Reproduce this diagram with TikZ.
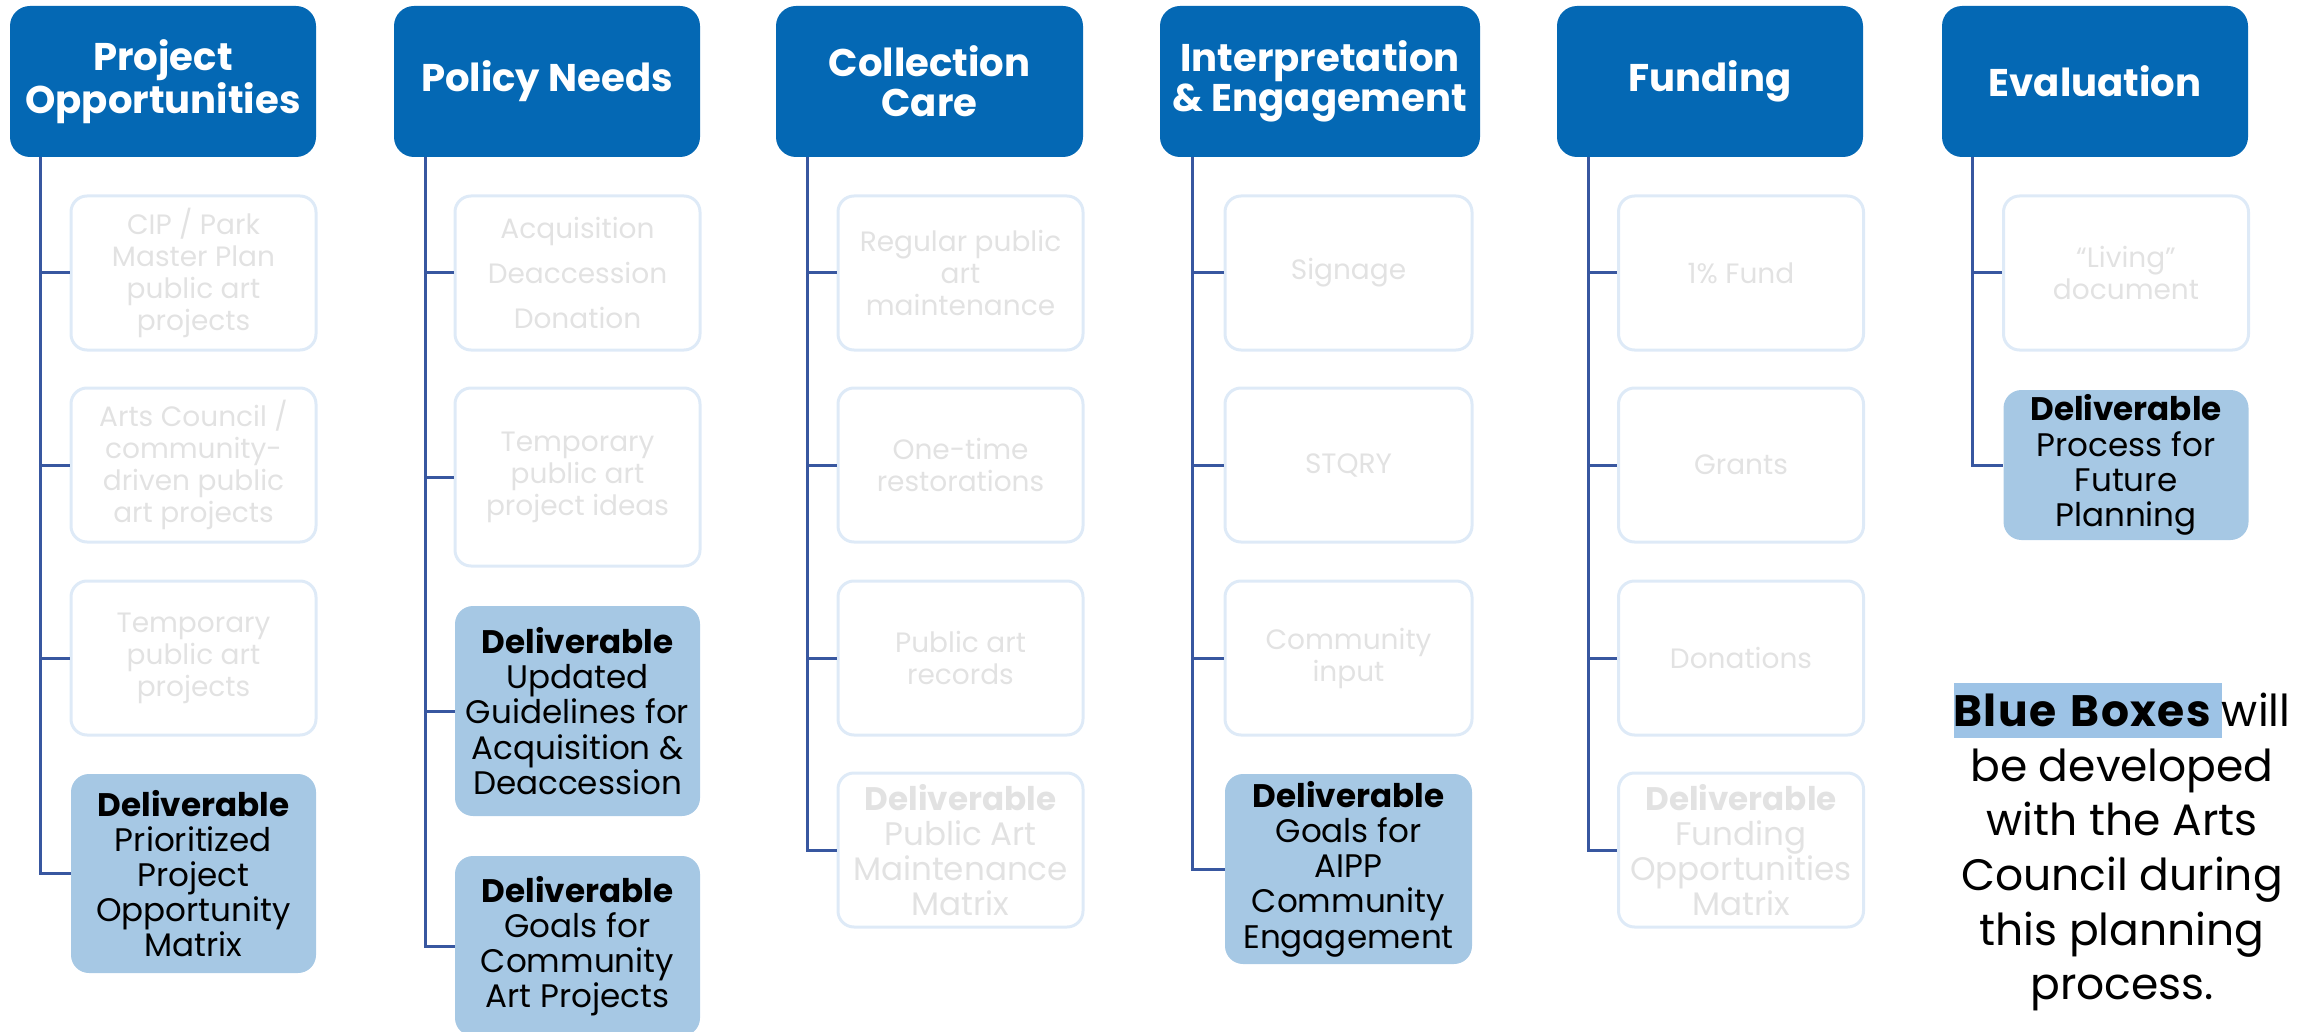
\documentclass[tikz,border=0pt]{standalone}
\usepackage{fontspec}
\setmainfont{Poppins}
\definecolor{hdr}{RGB}{4,104,180}
\definecolor{delfill}{RGB}{166,200,228}
\definecolor{fadeline}{RGB}{222,234,247}
\definecolor{fadetext}{RGB}{226,226,226}
\definecolor{trunkc}{RGB}{56,87,160}
\definecolor{hl}{RGB}{157,195,230}
\begin{document}
\begin{tikzpicture}[x=0.5pt,y=-0.5pt,
  hdrbox/.style={rectangle, rounded corners=10pt, fill=hdr, text=white,
    font=\bfseries\fontsize{19.3}{20}\selectfont, align=center,
    minimum height=75.5pt, minimum width=153pt, inner sep=0pt},
  fadebox/.style={rectangle, rounded corners=8pt, draw=fadeline, line width=1.5pt,
    text=fadetext, font=\fontsize{14}{16}\selectfont, align=center,
    minimum width=122.5pt, minimum height=77pt, inner sep=0pt},
  fadedel/.style={fadebox, font=\fontsize{16.3}{17.6}\selectfont},
  delbox/.style={rectangle, rounded corners=9pt, fill=delfill, text=black,
    font=\fontsize{16.3}{17.6}\selectfont, align=center,
    minimum width=122.5pt, inner sep=0pt},
  trunk/.style={draw=trunkc, line width=1.5pt}]
\clip (0,0) rectangle (2323,1032);
\useasboundingbox (0,0) rectangle (2323,1032);

% headers
\node[hdrbox] (h1) at (163,81.5) {Project\\Opportunities};
\node[hdrbox] (h2) at (547,81.5) {Policy Needs};
\node[hdrbox, minimum width=153.5pt] (h3) at (929.5,81.5) {Collection\\Care};
\node[hdrbox, minimum width=160pt] (h4) at (1320,81.5) {Interpretation\\\& Engagement};
\node[hdrbox] (h5) at (1710,81.5) {Funding};
\node[hdrbox] (h6) at (2095,81.5) {Evaluation};

% column 1
\node[fadebox] (c11) at (193.5,273) {CIP / Park\\Master Plan\\public art\\projects};
\node[fadebox] (c12) at (193.5,465) {Arts Council /\\community-\\driven public\\art projects};
\node[fadebox] (c13) at (193.5,658) {Temporary\\public art\\projects};
\node[delbox, minimum height=99.5pt] (c14) at (193.5,873.5) {\textbf{Deliverable}\\Prioritized\\Project\\Opportunity\\Matrix};

% column 2
\node[fadebox, font=\fontsize{14}{22.5}\selectfont] (c21) at (577.5,273) {Acquisition\\Deaccession\\Donation};
\node[fadebox, minimum height=89pt] (c22) at (577.5,477) {Temporary\\public art\\project ideas};
\node[delbox, minimum height=105pt] (c23) at (577.5,711) {\textbf{Deliverable}\\Updated\\Guidelines for\\Acquisition \&\\Deaccession};
\node[delbox, minimum height=90pt] (c24) at (577.5,946) {\textbf{Deliverable}\\Goals for\\Community\\Art Projects};

% column 3
\node[fadebox] (c31) at (960.5,273) {Regular public\\art\\maintenance};
\node[fadebox] (c32) at (960.5,465) {One-time\\restorations};
\node[fadebox] (c33) at (960.5,658) {Public art\\records};
\node[fadedel] (c34) at (960.5,850) {\textbf{Deliverable}\\Public Art\\Maintenance\\Matrix};

% column 4
\node[fadebox, minimum width=123.5pt] (c41) at (1348.5,273) {Signage};
\node[fadebox, minimum width=123.5pt] (c42) at (1348.5,465) {STQRY};
\node[fadebox, minimum width=123.5pt] (c43) at (1348.5,658) {Community\\input};
\node[delbox, minimum width=123.5pt, minimum height=95pt] (c44) at (1348.5,869) {\textbf{Deliverable}\\Goals for\\AIPP\\Community\\Engagement};

% column 5
\node[fadebox] (c51) at (1741,273) {1\% Fund};
\node[fadebox] (c52) at (1741,465) {Grants};
\node[fadebox] (c53) at (1741,658) {Donations};
\node[fadedel] (c54) at (1741,850) {\textbf{Deliverable}\\Funding\\Opportunities\\Matrix};

% column 6
\node[fadebox] (c61) at (2126,273) {“Living”\\document};
\node[delbox, minimum height=75pt] (c62) at (2126,465) {\textbf{Deliverable}\\Process for\\Future\\Planning};

% trunks
\coordinate (t1) at (40,157);
\coordinate (t2) at (425,157);
\coordinate (t3) at (807,157);
\coordinate (t4) at (1192,157);
\coordinate (t5) at (1588,157);
\coordinate (t6) at (1972,157);

\draw[trunk] (t1) |- (c14.west);
\foreach \c in {c11,c12,c13} \draw[trunk] (t1 |- \c.west) -- (\c.west);
\draw[trunk] (t2) |- (c24.west);
\foreach \c in {c21,c22,c23} \draw[trunk] (t2 |- \c.west) -- (\c.west);
\draw[trunk] (t3) |- (c34.west);
\foreach \c in {c31,c32,c33} \draw[trunk] (t3 |- \c.west) -- (\c.west);
\draw[trunk] (t4) |- (c44.west);
\foreach \c in {c41,c42,c43} \draw[trunk] (t4 |- \c.west) -- (\c.west);
\draw[trunk] (t5) |- (c54.west);
\foreach \c in {c51,c52,c53} \draw[trunk] (t5 |- \c.west) -- (\c.west);
\draw[trunk] (t6) |- (c62.west);
\draw[trunk] (t6 |- c61.west) -- (c61.west);

% legend
\node[font=\fontsize{22}{27.3}\selectfont, align=center, inner sep=0pt] (leg) at (2122,847)
  {\setlength{\fboxsep}{0pt}\colorbox{hl}{\rule[-5.5pt]{0pt}{27.5pt}\textbf{\addfontfeature{LetterSpace=3}Blue\hspace{2pt} Boxes}\hspace{5pt}}will\\be developed\\with the Arts\\Council during\\this planning\\process.};
\end{tikzpicture}
\end{document}
